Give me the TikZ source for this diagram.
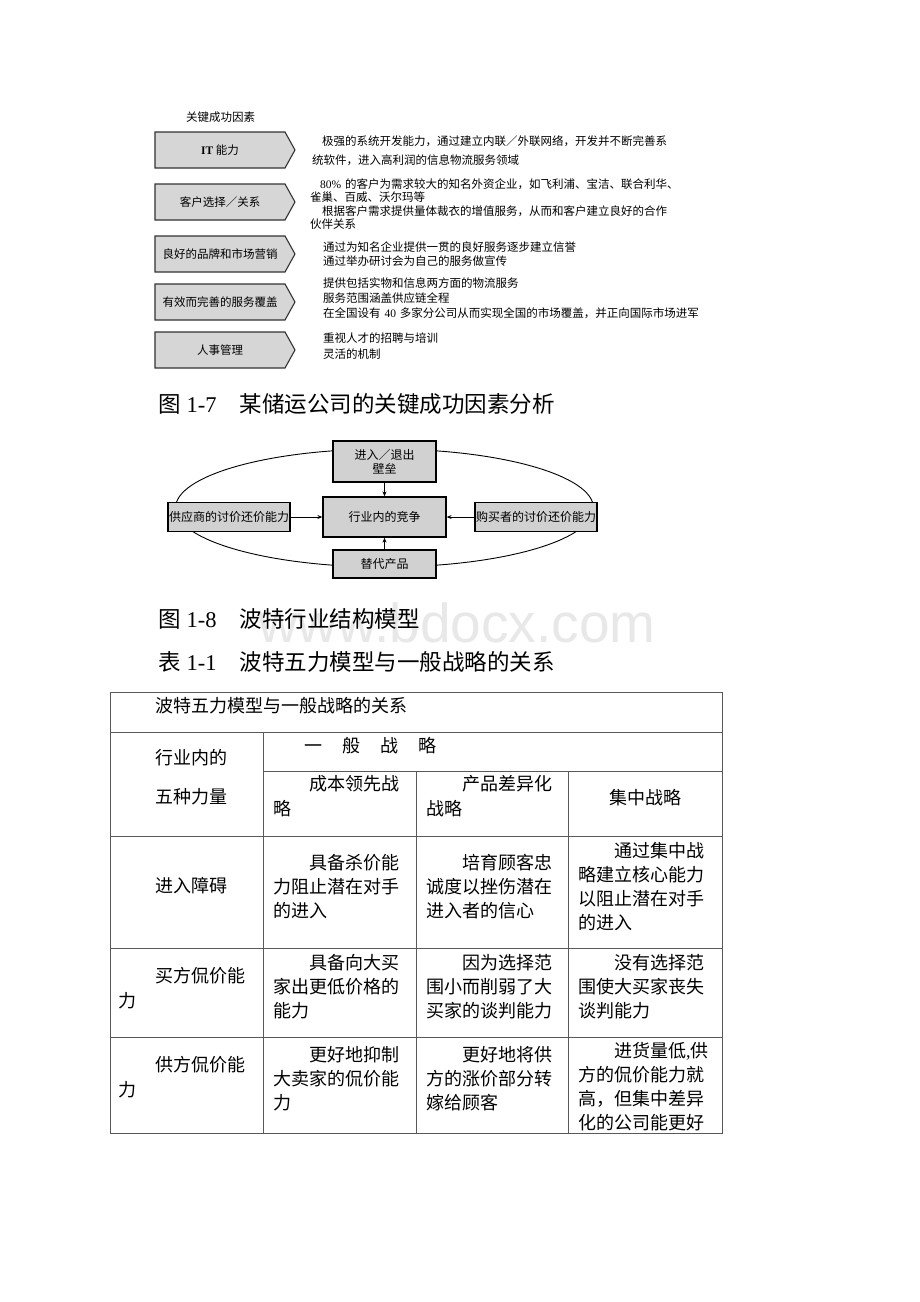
\documentclass[tikz,border=0pt]{standalone}
\usepackage{fontspec}
\setmainfont{Liberation Serif}
\newfontfamily\cjk{Noto Sans CJK SC}
\newfontfamily\wmfont{Liberation Sans}
\usetikzlibrary{shapes.symbols,arrows.meta}
\begin{document}
\begin{tikzpicture}[x=1pt,y=-1pt,
  chev/.style={signal, signal to=east, signal pointer angle=122, draw=black!80, line width=1.1pt, fill=black!16, minimum width=140pt, minimum height=36pt, inner sep=0pt, font=\cjk\fontsize{11.5}{14}\selectfont},
  rtext/.style={anchor=base west, inner sep=0pt, text width=420pt, align=left, font=\cjk\fontsize{11.5}{14.5}\selectfont},
  pbox/.style={draw=black, line width=1.3pt, fill=black!18, inner sep=0pt, align=center, font=\cjk\fontsize{12}{13.5}\selectfont},
  arr/.style={-{Stealth[length=5pt,width=4pt]}, line width=0.8pt},
  captxt/.style={anchor=base west, inner sep=0pt, font=\cjk\fontsize{22.5}{27}\selectfont},
  tline/.style={draw=black!65, line width=1pt},
  tt/.style={anchor=base west, inner sep=0pt, text width=150pt, align=left, font=\cjk\fontsize{18}{24}\selectfont}
]
\useasboundingbox (0,0) rectangle (920,1302);
\fill[white] (0,0) rectangle (920,1302);

% ---------- Figure 1-7 ----------
\node[anchor=base west, inner sep=0pt, font=\cjk\fontsize{11.5}{14}\selectfont] (hdr) at (186,121.4) {关键成功因素};

\node[chev] (k1) at (220,150) {{\rmfamily\bfseries IT} 能力};
\node[chev] (k2) at (220,202) {客户选择／关系};
\node[chev] (k3) at (220,254) {良好的品牌和市场营销};
\node[chev] (k4) at (220,302) {有效而完善的服务覆盖};
\node[chev] (k5) at (220,350) {人事管理};

\node[rtext, font=\cjk\fontsize{11.5}{19}\selectfont] (d1) at (312,145.4) {\hspace*{10pt}极强的系统开发能力，通过建立内联／外联网络，开发并不断完善系\\统软件，进入高利润的信息物流服务领域};
\node[rtext, font=\cjk\fontsize{11.5}{13.5}\selectfont] (d2) at (310,188.4) {\hspace*{10pt}{\rmfamily 80\%} 的客户为需求较大的知名外资企业，如飞利浦、宝洁、联合利华、\\雀巢、百威、沃尔玛等\\\hspace*{12pt}根据客户需求提供量体裁衣的增值服务，从而和客户建立良好的合作\\伙伴关系};
\node[rtext] (d3) at (323,251.4) {通过为知名企业提供一贯的良好服务逐步建立信誉\\通过举办研讨会为自己的服务做宣传};
\node[rtext, font=\cjk\fontsize{11.5}{15}\selectfont] (d4) at (323,287.4) {提供包括实物和信息两方面的物流服务\\服务范围涵盖供应链全程\\在全国设有 {\rmfamily 40} 多家分公司从而实现全国的市场覆盖，并正向国际市场进军};
\node[rtext, font=\cjk\fontsize{11.5}{16.5}\selectfont] (d5) at (323,342.4) {重视人才的招聘与培训\\灵活的机制};

\node[captxt] (cap7) at (158,412.5) {图\hspace{6pt}{\rmfamily 1-7}\hspace{23pt}某储运公司的关键成功因素分析};

% ---------- Figure 1-8 ----------
\draw[line width=0.9pt] (384.5,508) ellipse [x radius=209, y radius=59];
\node[pbox, minimum width=103pt, minimum height=41pt] (top) at (384.5,461.5) {进入／退出\\壁垒};
\node[pbox, minimum width=123pt, minimum height=40pt] (ctr) at (384.5,517) {行业内的竞争};
\node[pbox, minimum width=122pt, minimum height=29pt] (lft) at (229,517) {供应商的讨价还价能力};
\node[pbox, minimum width=122pt, minimum height=29pt] (rgt) at (536,517) {购买者的讨价还价能力};
\node[pbox, minimum width=103pt, minimum height=28pt] (bot) at (384.5,564) {替代产品};
\draw[arr] (top.south) -- (ctr.north);
\draw[arr] (lft.east) -- (ctr.west);
\draw[arr] (rgt.west) -- (ctr.east);
\draw[arr] (bot.north) -- (ctr.south);

% ---------- watermark ----------
\node[anchor=base west, inner sep=0pt, font=\wmfont\fontsize{55}{55}\selectfont, text=black!9] (wm) at (258,642) {www.bdocx.com};

\node[captxt] (cap8) at (158,627.5) {图\hspace{6pt}{\rmfamily 1-8}\hspace{23pt}波特行业结构模型};
\node[captxt] (cap11) at (158,670.5) {表\hspace{6pt}{\rmfamily 1-1}\hspace{23pt}波特五力模型与一般战略的关系};

% ---------- Table 1-1 ----------
\draw[tline] (110,692) rectangle (722,1133);
\draw[tline] (110,732) -- (722,732);
\draw[tline] (263,771) -- (722,771);
\draw[tline] (110,836) -- (722,836);
\draw[tline] (110,948) -- (722,948);
\draw[tline] (110,1037) -- (722,1037);
\draw[tline] (263,732) -- (263,1133);
\draw[tline] (416,771) -- (416,1133);
\draw[tline] (568,771) -- (568,1133);

\node[tt, text width=560pt] (t0) at (155,712) {波特五力模型与一般战略的关系};
\node[tt] (t1a) at (155,764) {行业内的};
\node[tt] (t1b) at (155,803) {五种力量};
\node[tt, text width=400pt] (t2) at (304,752) {一\hspace{20pt}般\hspace{20pt}战\hspace{20pt}略};
\node[tt, font=\cjk\fontsize{18}{25}\selectfont] (t3a) at (273,790) {\hspace*{36pt}成本领先战\\略};
\node[tt, font=\cjk\fontsize{18}{25}\selectfont] (t3b) at (426,790) {\hspace*{36pt}产品差异化\\战略};
\node[tt] (t3c) at (609,804) {集中战略};

\node[tt] (t4) at (155,892) {进入障碍};
\node[tt] (t4a) at (273,869) {\hspace*{36pt}具备杀价能\\力阻止潜在对手\\的进入};
\node[tt] (t4b) at (426,869) {\hspace*{36pt}培育顾客忠\\诚度以挫伤潜在\\进入者的信心};
\node[tt] (t4c) at (578,857) {\hspace*{36pt}通过集中战\\略建立核心能力\\以阻止潜在对手\\的进入};

\node[tt, font=\cjk\fontsize{18}{25}\selectfont] (t5) at (118,982) {\hspace*{37pt}买方侃价能\\力};
\node[tt] (t5a) at (273,969) {\hspace*{36pt}具备向大买\\家出更低价格的\\能力};
\node[tt] (t5b) at (426,969) {\hspace*{36pt}因为选择范\\围小而削弱了大\\买家的谈判能力};
\node[tt] (t5c) at (578,969) {\hspace*{36pt}没有选择范\\围使大买家丧失\\谈判能力};

\node[tt, font=\cjk\fontsize{18}{25}\selectfont] (t6) at (118,1071) {\hspace*{37pt}供方侃价能\\力};
\node[tt] (t6a) at (273,1061) {\hspace*{36pt}更好地抑制\\大卖家的侃价能\\力};
\node[tt] (t6b) at (426,1061) {\hspace*{36pt}更好地将供\\方的涨价部分转\\嫁给顾客};
\node[tt] (t6c) at (578,1057) {\hspace*{36pt}进货量低{\rmfamily ,}供\\方的侃价能力就\\高，但集中差异\\化的公司能更好};
\end{tikzpicture}
\end{document}
